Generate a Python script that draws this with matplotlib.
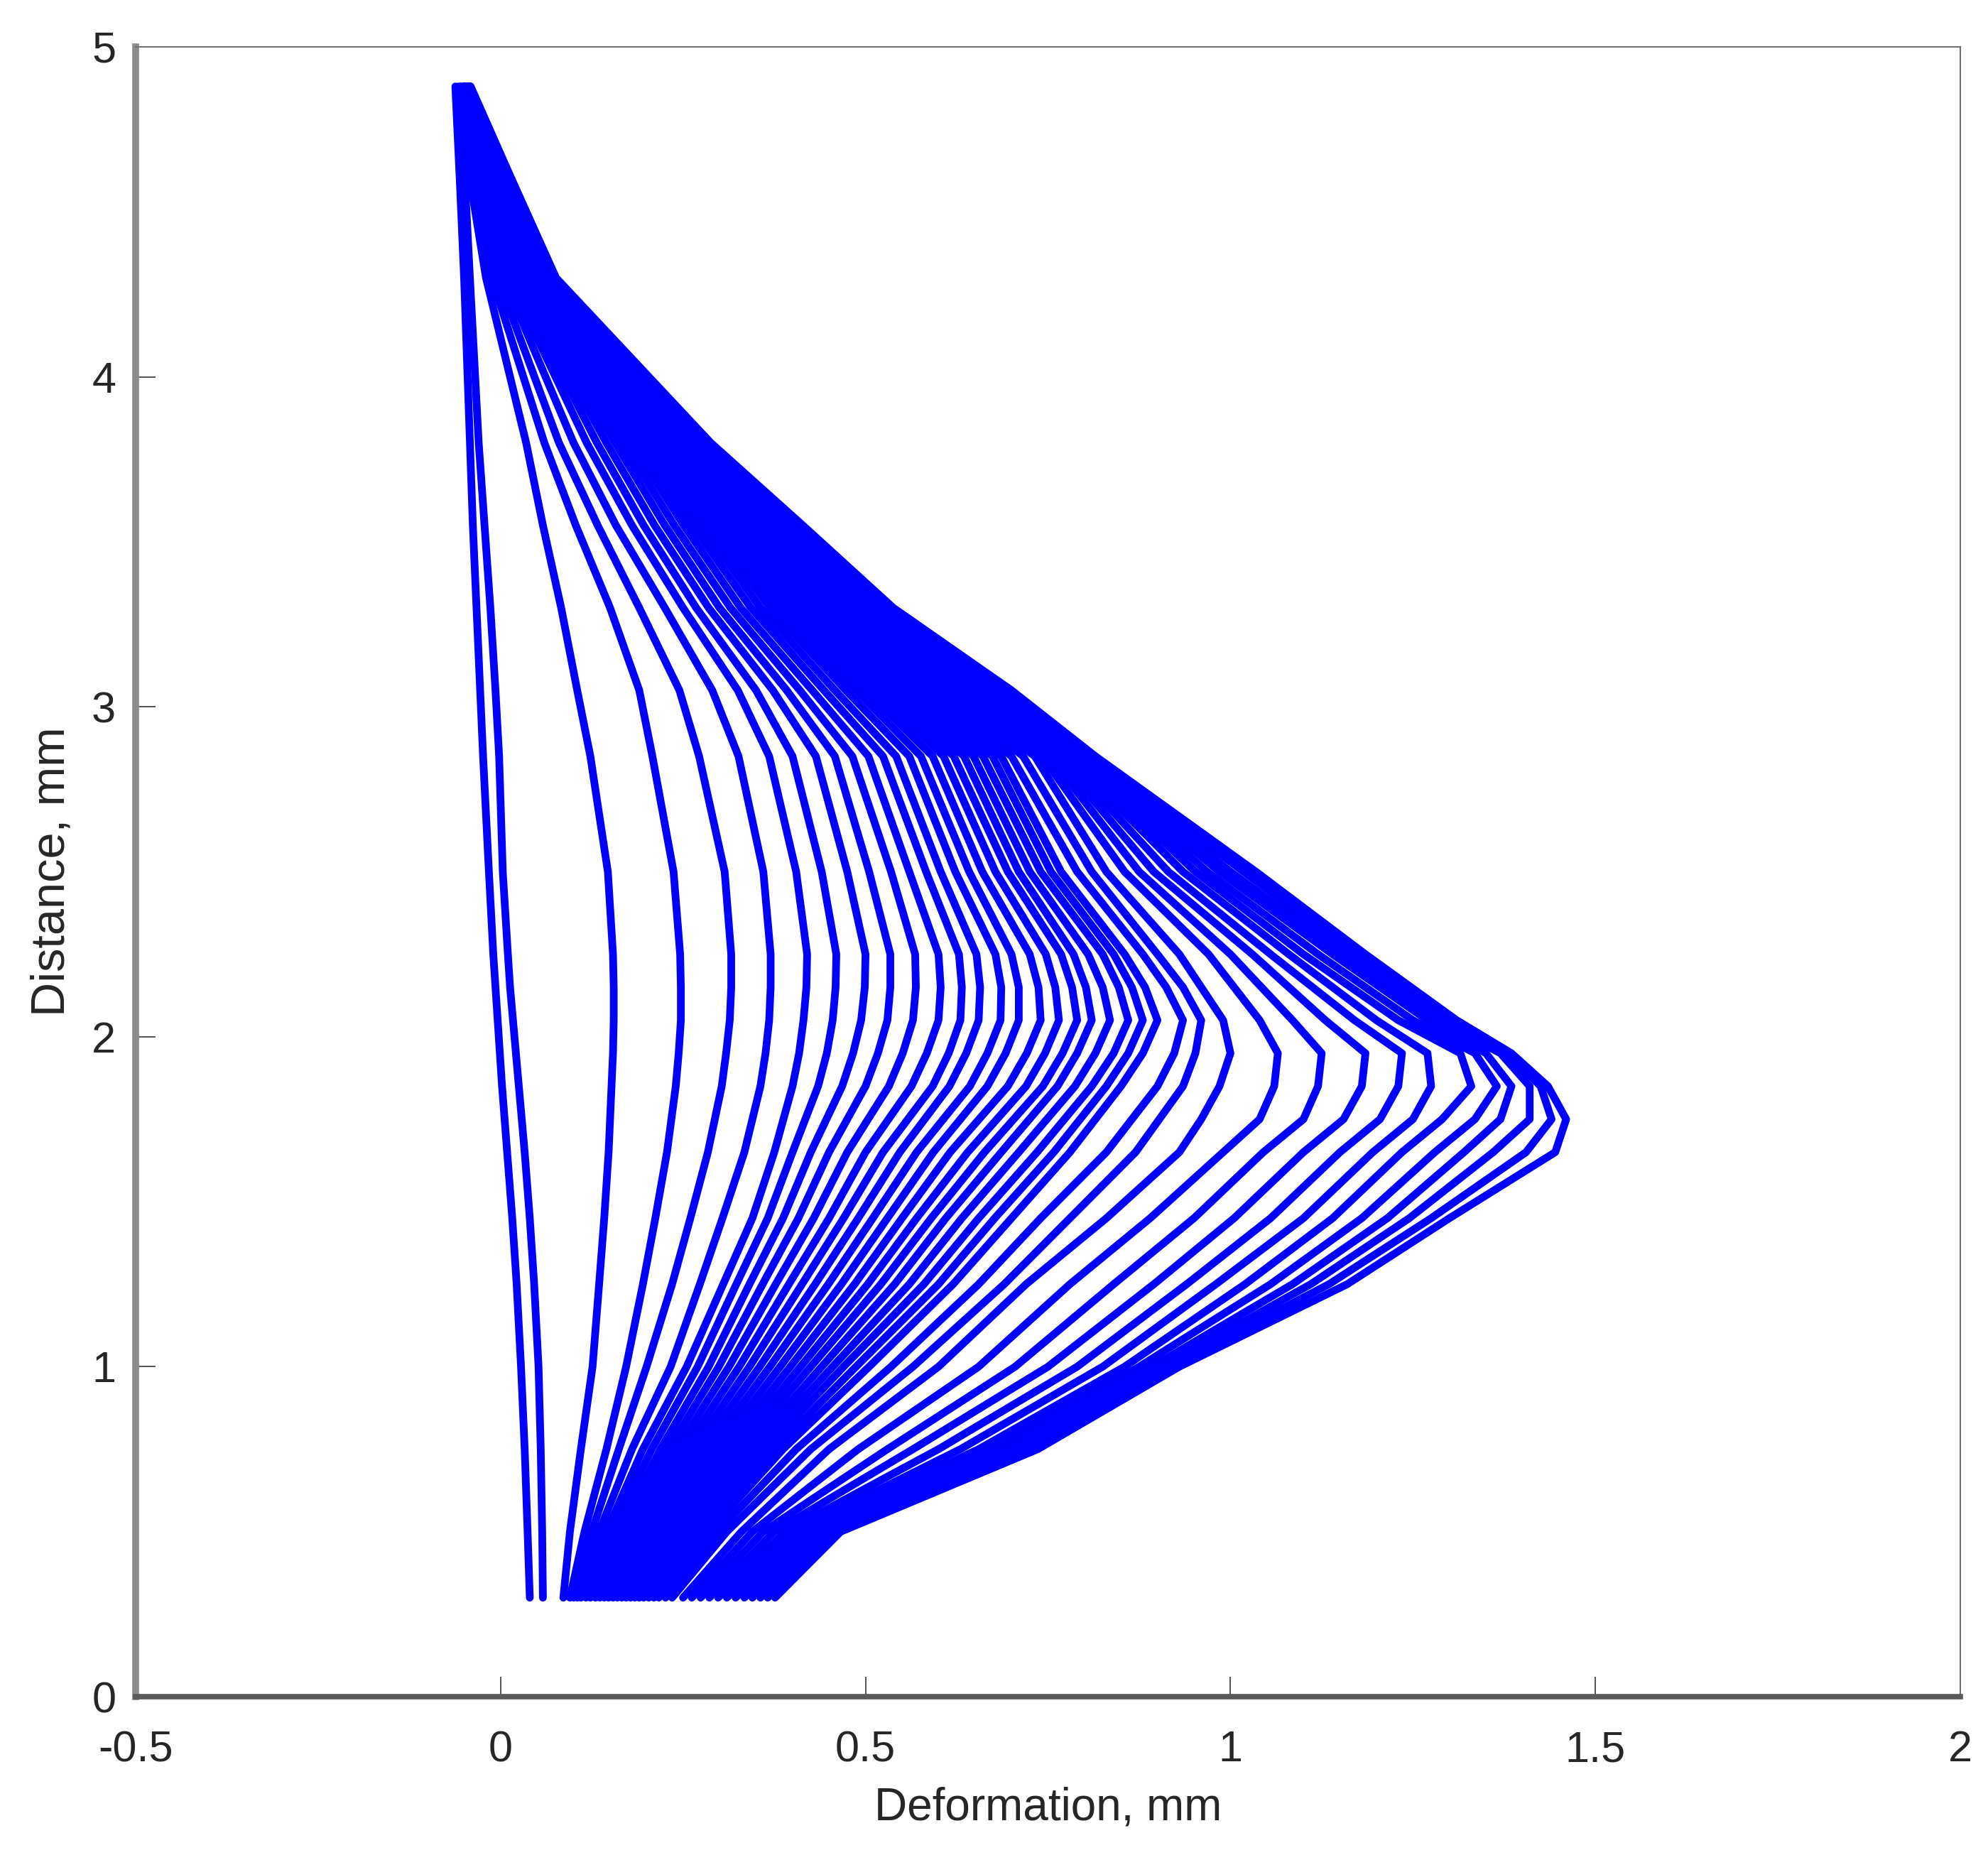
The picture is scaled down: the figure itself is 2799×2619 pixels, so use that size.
import matplotlib
matplotlib.use('Agg')
import matplotlib.pyplot as plt
from matplotlib import font_manager

y_levels = [0.3, 0.5, 0.75, 1.0, 1.25, 1.45, 1.65, 1.85, 1.95, 2.05, 2.15, 2.25,
            2.5, 2.85, 3.05, 3.3, 3.55, 3.8, 4.3, 4.6, 4.88]
outer_levels = [0.3, 0.5, 0.75, 1.0, 1.25, 1.45, 1.65, 1.75, 1.85, 1.95, 2.05, 2.25,
                2.5, 2.85, 3.05, 3.3, 3.55, 3.8, 4.3, 4.6, 4.88]

# deformation (mm) of each profile at y_levels
left_curves = [
    [0.040, 0.037, 0.033, 0.028, 0.022, 0.016, 0.009, 0.002, -0.001, -0.004, -0.007, -0.010, -0.016, -0.024, -0.028, -0.033, -0.038, -0.042, -0.050, -0.056, -0.062],
    [0.058, 0.057, 0.055, 0.052, 0.046, 0.040, 0.033, 0.025, 0.021, 0.017, 0.013, 0.010, 0.003, -0.002, -0.007, -0.014, -0.022, -0.030, -0.042, -0.049, -0.055],
]
inner_curves = [
    [0.086, 0.095, 0.110, 0.126, 0.135, 0.142, 0.148, 0.152, 0.154, 0.155, 0.155, 0.154, 0.147, 0.123, 0.105, 0.083, 0.058, 0.035, -0.020, -0.042, -0.058],
    [0.095, 0.115, 0.145, 0.172, 0.195, 0.212, 0.228, 0.240, 0.244, 0.247, 0.247, 0.246, 0.237, 0.208, 0.190, 0.150, 0.103, 0.060, -0.012, -0.036, -0.055],
    [0.100, 0.125, 0.162, 0.200, 0.235, 0.260, 0.284, 0.303, 0.309, 0.314, 0.316, 0.316, 0.307, 0.272, 0.245, 0.190, 0.133, 0.080, -0.004, -0.030, -0.052],
    [0.105, 0.135, 0.180, 0.233, 0.273, 0.304, 0.334, 0.356, 0.363, 0.368, 0.370, 0.370, 0.360, 0.326, 0.290, 0.225, 0.158, 0.100, 0.004, -0.025, -0.050],
]
mid_curves = [
    [0.110, 0.145, 0.195, 0.255, 0.305, 0.345, 0.375, 0.400, 0.409, 0.415, 0.419, 0.420, 0.405, 0.368, 0.325, 0.250, 0.180, 0.118, 0.011, -0.021, -0.050],
    [0.117, 0.153, 0.207, 0.270, 0.323, 0.366, 0.400, 0.435, 0.447, 0.455, 0.459, 0.460, 0.440, 0.400, 0.350, 0.268, 0.196, 0.132, 0.016, -0.018, -0.050],
    [0.123, 0.162, 0.219, 0.285, 0.341, 0.387, 0.425, 0.468, 0.483, 0.494, 0.499, 0.500, 0.475, 0.432, 0.373, 0.285, 0.211, 0.145, 0.021, -0.015, -0.049],
    [0.130, 0.170, 0.230, 0.299, 0.359, 0.408, 0.450, 0.500, 0.517, 0.530, 0.534, 0.534, 0.505, 0.458, 0.392, 0.300, 0.225, 0.157, 0.026, -0.012, -0.049],
    [0.136, 0.178, 0.241, 0.313, 0.377, 0.429, 0.475, 0.532, 0.551, 0.565, 0.569, 0.568, 0.535, 0.482, 0.410, 0.315, 0.238, 0.168, 0.030, -0.010, -0.048],
    [0.142, 0.186, 0.252, 0.327, 0.395, 0.450, 0.500, 0.563, 0.584, 0.600, 0.603, 0.600, 0.560, 0.504, 0.427, 0.329, 0.251, 0.179, 0.034, -0.008, -0.048],
    [0.148, 0.194, 0.263, 0.341, 0.413, 0.470, 0.524, 0.592, 0.614, 0.630, 0.632, 0.628, 0.583, 0.524, 0.443, 0.343, 0.263, 0.189, 0.038, -0.006, -0.048],
    [0.154, 0.202, 0.274, 0.355, 0.431, 0.490, 0.547, 0.615, 0.638, 0.655, 0.657, 0.652, 0.603, 0.542, 0.458, 0.356, 0.275, 0.199, 0.042, -0.004, -0.047],
    [0.160, 0.210, 0.285, 0.369, 0.449, 0.510, 0.570, 0.643, 0.667, 0.685, 0.686, 0.678, 0.623, 0.560, 0.473, 0.369, 0.286, 0.208, 0.045, -0.002, -0.047],
    [0.166, 0.218, 0.296, 0.383, 0.467, 0.530, 0.593, 0.667, 0.692, 0.710, 0.710, 0.700, 0.642, 0.576, 0.487, 0.381, 0.297, 0.217, 0.048, 0.000, -0.047],
    [0.172, 0.226, 0.307, 0.397, 0.485, 0.550, 0.616, 0.695, 0.721, 0.740, 0.737, 0.725, 0.660, 0.592, 0.500, 0.393, 0.308, 0.225, 0.051, 0.001, -0.046],
    [0.178, 0.234, 0.318, 0.411, 0.503, 0.570, 0.640, 0.720, 0.746, 0.765, 0.760, 0.747, 0.678, 0.607, 0.513, 0.405, 0.318, 0.233, 0.054, 0.002, -0.046],
    [0.184, 0.242, 0.329, 0.425, 0.521, 0.590, 0.663, 0.743, 0.770, 0.790, 0.783, 0.768, 0.695, 0.621, 0.526, 0.417, 0.328, 0.240, 0.056, 0.003, -0.046],
    [0.190, 0.250, 0.340, 0.440, 0.540, 0.610, 0.686, 0.763, 0.790, 0.810, 0.802, 0.785, 0.710, 0.635, 0.538, 0.428, 0.338, 0.247, 0.058, 0.004, -0.046],
    [0.196, 0.258, 0.351, 0.455, 0.560, 0.632, 0.710, 0.787, 0.815, 0.835, 0.825, 0.805, 0.725, 0.648, 0.550, 0.440, 0.347, 0.253, 0.060, 0.005, -0.045],
    [0.203, 0.267, 0.363, 0.470, 0.580, 0.655, 0.735, 0.810, 0.840, 0.860, 0.847, 0.825, 0.740, 0.661, 0.561, 0.451, 0.356, 0.259, 0.062, 0.006, -0.045],
    [0.210, 0.276, 0.375, 0.487, 0.600, 0.677, 0.758, 0.830, 0.860, 0.880, 0.865, 0.840, 0.754, 0.674, 0.572, 0.462, 0.364, 0.264, 0.064, 0.007, -0.045],
    [0.217, 0.285, 0.387, 0.505, 0.620, 0.700, 0.780, 0.850, 0.880, 0.900, 0.883, 0.855, 0.768, 0.686, 0.583, 0.473, 0.372, 0.268, 0.066, 0.008, -0.045],
    [0.226, 0.297, 0.405, 0.535, 0.655, 0.740, 0.830, 0.900, 0.923, 0.935, 0.912, 0.880, 0.790, 0.700, 0.594, 0.485, 0.380, 0.272, 0.067, 0.008, -0.045],
    [0.235, 0.310, 0.425, 0.565, 0.690, 0.780, 0.870, 0.935, 0.952, 0.960, 0.935, 0.900, 0.810, 0.716, 0.605, 0.497, 0.388, 0.275, 0.068, 0.009, -0.045],
]
# outer profiles, read at outer_levels
outer_curves = [
    [0.250, 0.330, 0.450, 0.600, 0.720, 0.830, 0.930, 0.960, 0.985, 1.000, 0.990, 0.930, 0.830, 0.732, 0.614, 0.503, 0.391, 0.277, 0.070, 0.009, -0.045],
    [0.262, 0.345, 0.490, 0.655, 0.780, 0.890, 0.990, 1.040, 1.060, 1.065, 1.040, 0.970, 0.855, 0.742, 0.622, 0.507, 0.393, 0.278, 0.071, 0.010, -0.045],
    [0.274, 0.360, 0.530, 0.705, 0.840, 0.950, 1.045, 1.100, 1.120, 1.125, 1.085, 1.000, 0.875, 0.752, 0.630, 0.511, 0.395, 0.279, 0.071, 0.010, -0.044],
    [0.286, 0.375, 0.565, 0.750, 0.895, 1.005, 1.100, 1.155, 1.180, 1.185, 1.130, 1.030, 0.895, 0.761, 0.638, 0.515, 0.397, 0.280, 0.072, 0.011, -0.044],
    [0.298, 0.390, 0.600, 0.790, 0.940, 1.055, 1.150, 1.205, 1.230, 1.235, 1.170, 1.055, 0.915, 0.769, 0.646, 0.518, 0.399, 0.281, 0.072, 0.011, -0.044],
    [0.310, 0.403, 0.630, 0.825, 0.980, 1.100, 1.195, 1.250, 1.275, 1.270, 1.200, 1.080, 0.935, 0.777, 0.654, 0.522, 0.401, 0.282, 0.073, 0.012, -0.043],
    [0.322, 0.415, 0.655, 0.855, 1.020, 1.140, 1.235, 1.290, 1.330, 1.315, 1.230, 1.100, 0.952, 0.784, 0.662, 0.525, 0.403, 0.283, 0.073, 0.012, -0.043],
    [0.334, 0.427, 0.675, 0.875, 1.055, 1.180, 1.280, 1.335, 1.365, 1.335, 1.250, 1.120, 0.968, 0.791, 0.670, 0.528, 0.405, 0.284, 0.074, 0.013, -0.043],
    [0.345, 0.438, 0.695, 0.893, 1.085, 1.215, 1.320, 1.370, 1.385, 1.350, 1.270, 1.140, 0.985, 0.798, 0.678, 0.531, 0.408, 0.285, 0.074, 0.013, -0.042],
    [0.356, 0.448, 0.710, 0.907, 1.110, 1.245, 1.360, 1.410, 1.410, 1.370, 1.285, 1.155, 1.000, 0.804, 0.686, 0.534, 0.410, 0.286, 0.075, 0.014, -0.042],
    [0.366, 0.457, 0.723, 0.918, 1.135, 1.275, 1.405, 1.440, 1.425, 1.380, 1.300, 1.170, 1.018, 0.810, 0.694, 0.536, 0.412, 0.287, 0.075, 0.014, -0.042],
    [0.376, 0.466, 0.736, 0.930, 1.160, 1.300, 1.445, 1.460, 1.435, 1.385, 1.310, 1.185, 1.035, 0.815, 0.700, 0.538, 0.414, 0.288, 0.076, 0.015, -0.041],
]

x_ticks = [-0.5, 0, 0.5, 1, 1.5, 2]
x_ticklabels = ['-0.5', '0', '0.5', '1', '1.5', '2']
y_ticks = [0, 1, 2, 3, 4, 5]
y_ticklabels = ['0', '1', '2', '3', '4', '5']

names = {f.name for f in font_manager.fontManager.ttflist}
narrow = 'Liberation Sans Narrow' if 'Liberation Sans Narrow' in names else 'Liberation Sans'

W, H = 2799, 2619
fig = plt.figure(figsize=(W / 100, H / 100), dpi=100)
ax = fig.add_axes([191 / W, 1 - 2389 / H, (2760 - 191) / W, (2389 - 66) / H])

line_kw = dict(color='#0000ff', lw=7.8, solid_joinstyle='round', solid_capstyle='round')
for row in left_curves + inner_curves + mid_curves:
    ax.plot(row, y_levels, **line_kw)
for row in outer_curves:
    ax.plot(row, outer_levels, **line_kw)

ax.set_xlim(-0.5, 2)
ax.set_ylim(0, 5)
ax.set_xticks(x_ticks)
ax.set_xticklabels(x_ticklabels, family=narrow, fontsize=44, color='#262626')
ax.set_yticks(y_ticks)
ax.set_yticklabels(y_ticklabels, family=narrow, fontsize=44, color='#262626')
ax.tick_params(axis='x', direction='in', length=20, width=1.3, color='#444444', pad=34, top=False)
ax.tick_params(axis='y', direction='in', length=20, width=1.3, color='#444444', pad=20, right=False)

ax.spines['left'].set_linewidth(7)
ax.spines['left'].set_color('#8c8c8c')
ax.spines['bottom'].set_linewidth(5.5)
ax.spines['bottom'].set_color('#5a5a5a')
for s in ['top', 'right']:
    ax.spines[s].set_linewidth(1.5)
    ax.spines[s].set_color('#707070')

ax.set_xlabel('Deformation, mm', family=narrow, fontsize=46, color='#262626', labelpad=16)
ax.set_ylabel('Distance, mm', family='Liberation Sans', fontsize=48, color='#262626', labelpad=18)

plt.savefig('out.png', dpi=100, facecolor='white')
